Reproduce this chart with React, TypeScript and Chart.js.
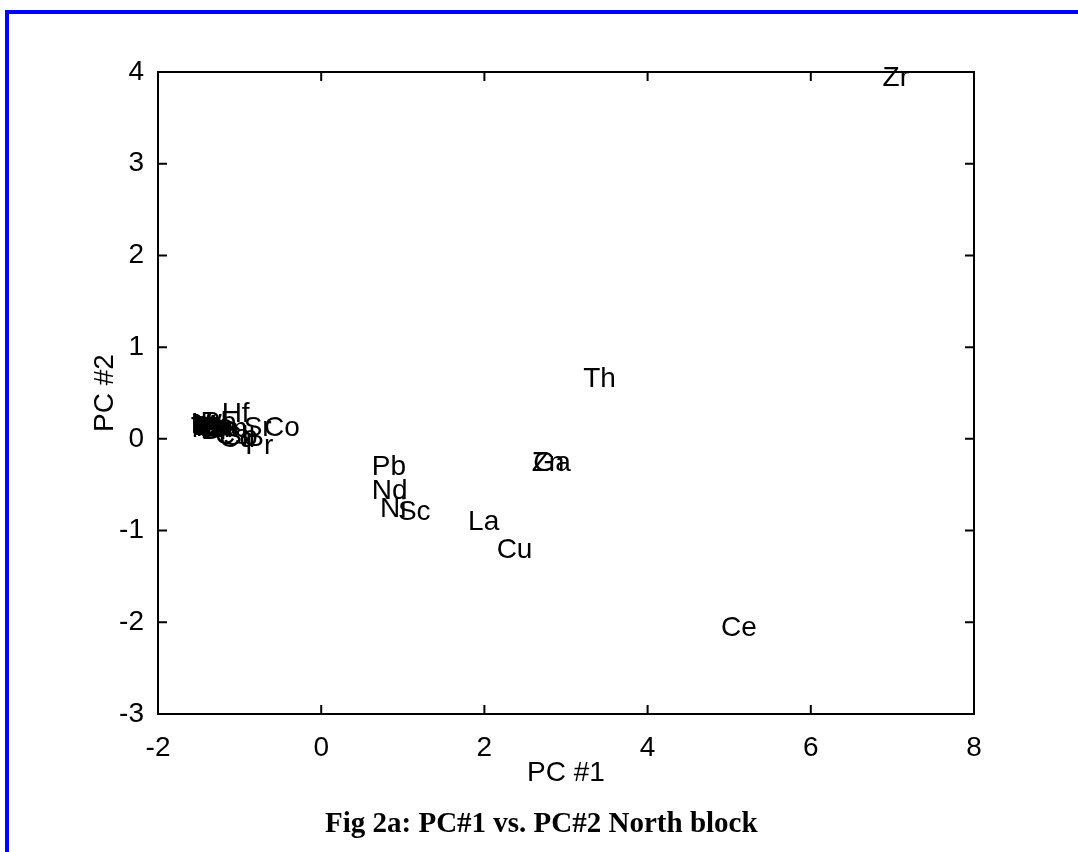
import React, { useEffect, useRef } from "react";
import { Chart, registerables } from "chart.js";

Chart.register(...registerables);

const labels = [
  "Zr", "Th", "Zn", "Ga", "Pb", "Nd", "Ni", "Sc", "La", "Cu", "Ce",
  "Hf", "Co", "Sr", "Pr",
  "Li", "Be", "V", "Cr", "Nb", "Mo", "Ta", "W", "U", "Y", "Rb", "Ba", "Sn", "Bi", "Sm", "Cs", "Cd", "Sb",
];
const pc1 = [
  6.88, 3.21, 2.58, 2.60, 0.62, 0.62, 0.72, 0.94, 1.80, 2.15, 4.90,
  -1.22, -0.70, -0.95, -0.93,
  -1.60, -1.58, -1.57, -1.55, -1.59, -1.56, -1.60, -1.54, -1.52, -1.55, -1.48, -1.45, -1.50, -1.47, -1.42, -1.30, -1.25, -1.20,
];
const pc2 = [
  3.93, 0.65, -0.27, -0.27, -0.31, -0.57, -0.77, -0.80, -0.91, -1.22, -2.06,
  0.27, 0.12, 0.12, -0.08,
  0.15, 0.13, 0.16, 0.12, 0.10, 0.14, 0.12, 0.15, 0.11, 0.09, 0.17, 0.12, 0.10, 0.08, 0.10, 0.03, 0.00, 0.02,
];
const xTicks = [-2, 0, 2, 4, 6, 8];
const yTicks = [-3, -2, -1, 0, 1, 2, 3, 4];
const xTitle = "PC #1";
const yTitle = "PC #2";
const caption = "Fig 2a: PC#1 vs. PC#2 North block";

const FONT = "Liberation Sans, Arial, sans-serif";
const FS = 28;

const matlabPlugin = {
  id: "matlabBox",
  afterDraw(chart: any) {
    const { ctx, chartArea } = chart;
    const { left, right, top, bottom } = chartArea;
    const xs = chart.scales.x;
    const ys = chart.scales.y;
    ctx.save();
    // point labels
    const meta = chart.getDatasetMeta(0);
    ctx.fillStyle = "#000";
    ctx.font = `${FS}px ${FONT}`;
    ctx.textAlign = "left";
    ctx.textBaseline = "middle";
    meta.data.forEach((el: any, i: number) => {
      ctx.fillText(labels[i], el.x, el.y);
    });
    // box
    ctx.strokeStyle = "#000";
    ctx.lineWidth = 2;
    ctx.strokeRect(left, top, right - left, bottom - top);
    const tl = 9;
    ctx.beginPath();
    xs.ticks.forEach((t: any) => {
      const px = xs.getPixelForValue(t.value);
      ctx.moveTo(px, bottom);
      ctx.lineTo(px, bottom - tl);
      ctx.moveTo(px, top);
      ctx.lineTo(px, top + tl);
    });
    ys.ticks.forEach((t: any) => {
      const py = ys.getPixelForValue(t.value);
      ctx.moveTo(left, py);
      ctx.lineTo(left + tl, py);
      ctx.moveTo(right, py);
      ctx.lineTo(right - tl, py);
    });
    ctx.stroke();
    // axis titles
    ctx.font = `${FS}px ${FONT}`;
    ctx.textAlign = "center";
    ctx.textBaseline = "middle";
    ctx.fillText(xTitle, (left + right) / 2, bottom + 59);
    ctx.translate(left - 53, (top + bottom) / 2);
    ctx.rotate(-Math.PI / 2);
    ctx.fillText(yTitle, 0, 0);
    ctx.restore();
  },
};

export default function App() {
  const ref = useRef<HTMLCanvasElement | null>(null);
  useEffect(() => {
    if (!ref.current) return;
    const chart = new Chart(ref.current, {
      type: "scatter",
      data: {
        datasets: [
          {
            data: pc1.map((x, i) => ({ x, y: pc2[i] })),
            pointRadius: 0,
            pointHoverRadius: 0,
            showLine: false,
          },
        ],
      },
      options: {
        animation: false,
        responsive: false,
        maintainAspectRatio: false,
        events: [],
        layout: { padding: { left: 0, top: 72, right: 104, bottom: 0 } },
        plugins: { legend: { display: false }, tooltip: { enabled: false }, title: { display: false } },
        scales: {
          x: {
            type: "linear",
            min: -2,
            max: 8,
            afterBuildTicks: (s: any) => { s.ticks = xTicks.map((v) => ({ value: v })); },
            grid: { display: false },
            border: { display: false },
            ticks: { color: "#000", font: { family: FONT, size: FS }, padding: 9, maxRotation: 0, autoSkip: false },
            afterFit: (s: any) => { s.height = 138; },
          },
          y: {
            type: "linear",
            min: -3,
            max: 4,
            afterBuildTicks: (s: any) => { s.ticks = yTicks.map((v) => ({ value: v })); },
            grid: { display: false },
            border: { display: false },
            ticks: { color: "#000", font: { family: FONT, size: FS }, padding: 6, autoSkip: false },
            afterFit: (s: any) => { s.width = 158; },
          },
        },
      },
      plugins: [matlabPlugin],
    });
    return () => chart.destroy();
  }, []);
  return (
    <div style={{ position: "absolute", left: 0, top: 0, width: 1078, height: 852, background: "#fff", overflow: "hidden" }}>
      <div style={{ position: "absolute", left: 5, top: 10, width: 1073, height: 4, background: "#0000ff" }} />
      <div style={{ position: "absolute", left: 5, top: 10, width: 4, height: 842, background: "#0000ff" }} />
      <canvas ref={ref} width={1078} height={852} style={{ position: "absolute", left: 0, top: 0, width: 1078, height: 852 }} />
      <div
        style={{
          position: "absolute",
          left: 325,
          top: 806,
          whiteSpace: "nowrap",
          fontFamily: "Liberation Serif, Times New Roman, serif",
          fontWeight: "bold",
          fontSize: 29,
          color: "#000",
        }}
      >
        {caption}
      </div>
    </div>
  );
}
